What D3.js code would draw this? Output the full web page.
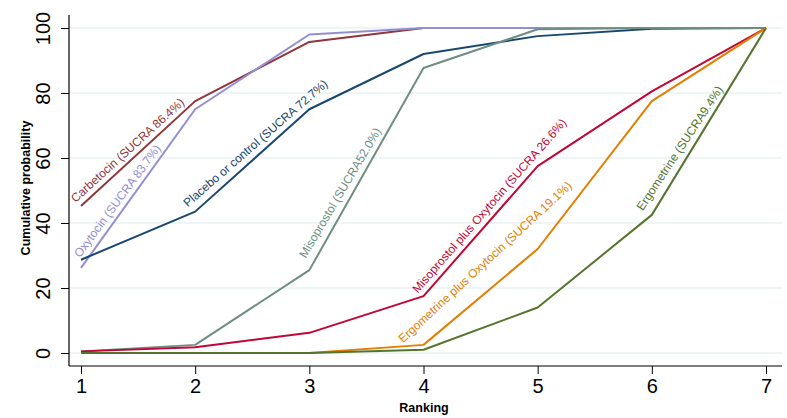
<!DOCTYPE html>
<html><head><meta charset="utf-8">
<script src="https://cdn.jsdelivr.net/npm/d3@7"></script>
<style>
html,body{margin:0;padding:0;background:#fff;}
svg{display:block;font-family:"Liberation Sans",Arial,sans-serif;}
</style></head>
<body>
<svg id="chart" width="787" height="418"></svg>
<script>
const ranks = [1,2,3,4,5,6,7];
const yTicks = [0,20,40,60,80,100];
const seriesNames = ["Carbetocin","Oxytocin","Placebo or control","Misoprostol","Misoprostol plus Oxytocin","Ergometrine plus Oxytocin","Ergometrine"];
const sucraText = ["(SUCRA 86.4%)","(SUCRA 83.7%)","(SUCRA 72.7%)","(SUCRA52.0%)","(SUCRA 26.6%)","(SUCRA 19.1%)","(SUCRA9.4%)"];
const carbetocin = [45.2,77.5,95.7,100,100,100,100];
const oxytocin = [26.2,75.0,98.0,100,100,100,100];
const placebo = [28.7,43.5,75.0,92.0,97.5,99.8,100];
const misoprostol = [0.5,2.5,25.5,87.7,99.6,100,100];
const misoOxy = [0.5,1.8,6.2,17.5,57.5,80.5,100];
const ergoOxy = [0,0,0,2.5,32.0,77.5,100];
const ergometrine = [0,0,0,1.0,14.0,42.5,100];
const seriesValues = [carbetocin,oxytocin,placebo,misoprostol,misoOxy,ergoOxy,ergometrine];
const colors = ["#90353b","#938dd2","#1a476f","#6e8e84","#c10534","#e37e00","#55752f"];
const labelRank = [1,1,2,3,4,4,6];
// label styling: rotation (deg), offset along the text direction and above its baseline (px)
const labelAngle = [-42.2,-53.5,-41,-59.3,-48.8,-42.7,-56.5];
const labelAlong = [-2,7,-3,8,-2,-14,-2];
const labelPerp = [6,6.5,8,9,6,15,9.5];

(function(){
const svg = d3.select("#chart");
const x = d3.scaleLinear().domain([1,7]).range([81,766]);
const y = d3.scaleLinear().domain([0,100]).range([353,28]);
const pLeft = 69, pBottom = 366, pRight = 782, pTop = 15;

// grid
svg.append("g").selectAll("line").data(yTicks).join("line")
  .attr("x1",pLeft).attr("x2",pRight)
  .attr("y1",d=>y(d)).attr("y2",d=>y(d))
  .attr("stroke","#eaf2f3").attr("stroke-width",1.5);

// axes
const yAxis = d3.axisLeft(y).tickValues(yTicks).tickSize(8).tickPadding(4);
const gy = svg.append("g").attr("transform",`translate(${pLeft},0)`).call(yAxis);
gy.select(".domain").remove();
gy.selectAll(".tick line").attr("stroke","#000");
gy.selectAll(".tick text").attr("font-size",20).attr("fill","#000")
  .attr("font-family","'Liberation Sans',Arial,sans-serif")
  .attr("x",null).attr("dy",null).attr("y",0)
  .attr("text-anchor","middle")
  .attr("transform","translate(-19,0) rotate(-90)");
svg.append("line").attr("x1",pLeft).attr("x2",pLeft).attr("y1",pTop).attr("y2",pBottom).attr("stroke","#000").attr("stroke-width",1.2);

const xAxis = d3.axisBottom(x).tickValues(ranks).tickSize(8).tickPadding(5).tickFormat(d3.format("d"));
const gx = svg.append("g").attr("transform",`translate(0,${pBottom})`).call(xAxis);
gx.select(".domain").remove();
gx.selectAll(".tick line").attr("stroke","#000");
gx.selectAll(".tick text").attr("font-size",20).attr("fill","#000").attr("font-family","'Liberation Sans',Arial,sans-serif");
svg.append("line").attr("x1",pLeft).attr("x2",pRight).attr("y1",pBottom).attr("y2",pBottom).attr("stroke","#000").attr("stroke-width",1.2);

// titles
svg.append("text").attr("x",424).attr("y",412).attr("text-anchor","middle")
  .attr("font-size",12.5).attr("font-weight","bold").text("Ranking");
svg.append("text").attr("transform",`translate(30,188) rotate(-90)`).attr("text-anchor","middle")
  .attr("font-size",12.5).attr("font-weight","bold").text("Cumulative probability");

// lines
const line = d3.line().x((d,i)=>x(ranks[i])).y(d=>y(d));
seriesValues.forEach((vals,k)=>{
  svg.append("path").attr("d",line(vals)).attr("fill","none")
    .attr("stroke",colors[k]).attr("stroke-width",2).attr("stroke-linejoin","round");
});

// labels
seriesValues.forEach((vals,k)=>{
  const i = labelRank[k]-1;
  const x0 = x(ranks[i]), y0 = y(vals[i]);
  const ang = labelAngle[k]*Math.PI/180;
  const along = labelAlong[k], perp = labelPerp[k];
  const px = x0 + along*Math.cos(ang) + perp*Math.sin(ang);
  const py = y0 + along*Math.sin(ang) - perp*Math.cos(ang);
  svg.append("text").attr("transform",`translate(${px},${py}) rotate(${labelAngle[k]})`)
    .attr("font-size",12).attr("fill",colors[k])
    .text(`${seriesNames[k]} ${sucraText[k]}`);
});
})();
</script>
</body></html>
